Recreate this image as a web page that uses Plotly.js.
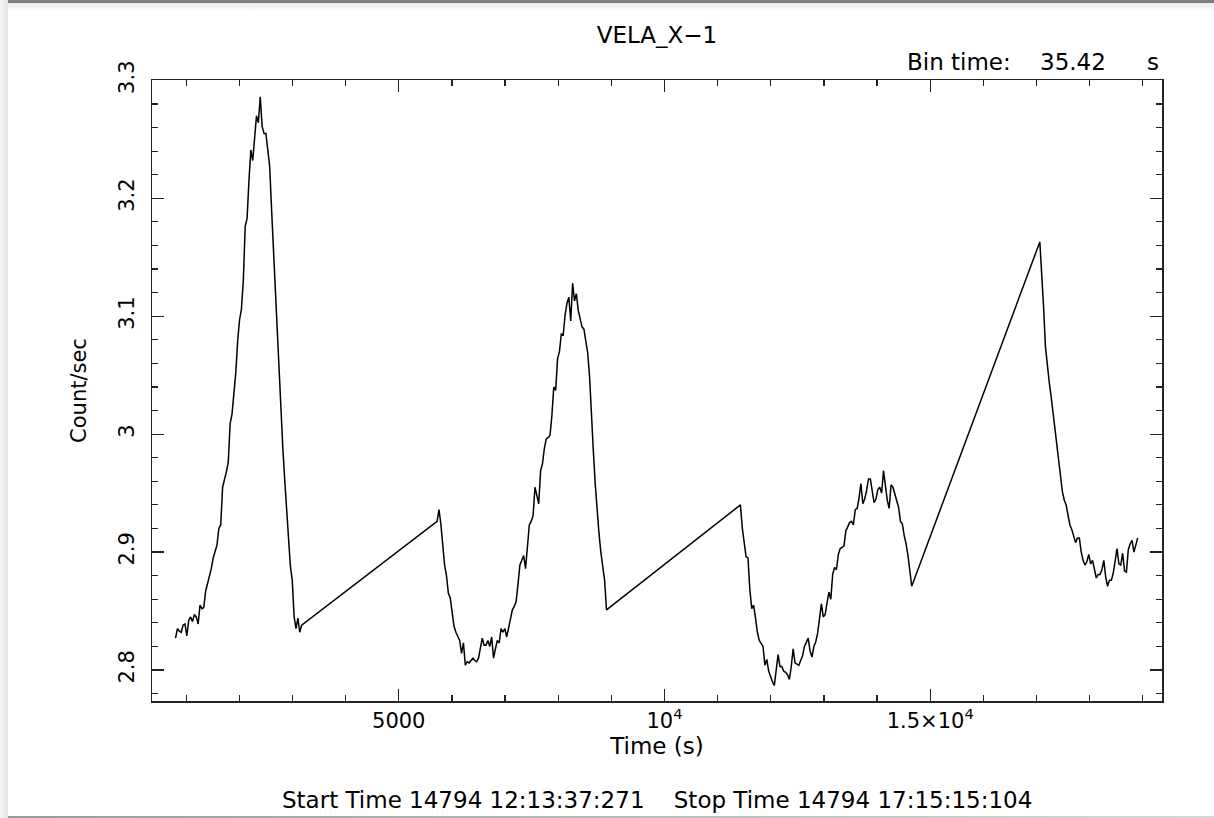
<!DOCTYPE html>
<html>
<head>
<meta charset="utf-8">
<script src="https://cdn.plot.ly/plotly-3.0.1.min.js"></script>
<style>
  html, body { margin: 0; padding: 0; background: #ffffff; }
  #wrap { position: relative; width: 1214px; height: 818px; overflow: hidden; }
  #chart { position: absolute; left: 0; top: 0; width: 1214px; height: 818px; }
  .frame-top { position: absolute; left: 8px; top: 0; width: 1206px; height: 3px; background: #7f7f7f; pointer-events: none; }
  .frame-shade-top { position: absolute; left: 8px; top: 3px; width: 1206px; height: 9px; background: linear-gradient(#ececec, #ffffff); pointer-events: none; }
  .frame-shade-left { position: absolute; left: 0; top: 0; width: 8px; height: 818px; background: linear-gradient(90deg, #f4f4f4, #e6e6e6); pointer-events: none; }
  .frame-bottom { position: absolute; left: 8px; top: 816px; width: 1206px; height: 2px; background: linear-gradient(90deg, #9a9a9a, #d8d8d8); pointer-events: none; }
</style>
</head>
<body>
<div id="wrap">
  <div id="chart"></div>
  <div class="frame-shade-left"></div>
  <div class="frame-top"></div>
  <div class="frame-shade-top"></div>
  <div class="frame-bottom"></div>
</div>
<script>
// ---- data (bin time 35.42 s) ----
const binTime = 35.42;
const segStarts = [800, 5721, 11429, 17062];

const seg1Values = [2.827,2.835,2.833,2.832,2.838,2.839,2.829,2.842,2.845,2.841,2.847,2.845,2.839,2.855,2.852,2.853,
  2.867,2.873,2.879,2.886,2.895,2.900,2.906,2.920,2.923,2.955,2.961,2.968,2.976,3.009,3.017,3.033,3.052,3.079,3.097,
  3.106,3.130,3.176,3.183,3.215,3.241,3.232,3.248,3.270,3.264,3.286,3.261,3.255,3.255,3.239,3.227,3.191,3.155,3.124,
  3.088,3.058,3.021,2.988,2.961,2.936,2.909,2.888,2.876,2.845,2.835,2.844,2.832,2.838];

const seg2Values = [2.926,2.936,2.924,2.903,2.889,2.880,2.865,2.861,2.849,2.837,2.832,2.828,2.825,2.814,2.823,2.804,
  2.807,2.806,2.808,2.810,2.808,2.807,2.810,2.818,2.827,2.821,2.821,2.825,2.820,2.828,2.810,2.818,2.825,2.823,2.835,
  2.832,2.835,2.828,2.835,2.844,2.851,2.854,2.858,2.873,2.889,2.893,2.897,2.886,2.907,2.923,2.926,2.931,2.955,2.948,
  2.941,2.969,2.975,2.988,2.996,2.997,2.999,3.016,3.040,3.037,3.064,3.070,3.085,3.084,3.101,3.111,3.116,3.096,3.128,
  3.113,3.119,3.105,3.098,3.091,3.089,3.077,3.069,3.049,3.012,2.986,2.958,2.933,2.916,2.900,2.887,2.876,2.851];

const seg3Values = [2.940,2.920,2.907,2.896,2.895,2.868,2.852,2.855,2.844,2.832,2.825,2.822,2.820,2.804,2.809,2.799,
  2.794,2.790,2.787,2.800,2.813,2.803,2.803,2.799,2.798,2.796,2.792,2.803,2.818,2.806,2.805,2.804,2.808,2.812,2.820,
  2.824,2.827,2.816,2.811,2.820,2.824,2.831,2.843,2.856,2.845,2.847,2.857,2.866,2.860,2.881,2.887,2.885,2.898,2.903,
  2.904,2.905,2.918,2.922,2.925,2.926,2.923,2.936,2.937,2.946,2.958,2.941,2.945,2.952,2.962,2.962,2.953,2.942,2.945,
  2.953,2.955,2.950,2.969,2.955,2.944,2.937,2.957,2.955,2.950,2.944,2.938,2.926,2.924,2.914,2.907,2.897,2.883,2.871];

const seg4Values = [3.163,3.139,3.108,3.074,3.056,3.044,3.032,3.019,3.008,2.993,2.981,2.967,2.951,2.944,2.940,2.931,
  2.923,2.919,2.914,2.908,2.912,2.912,2.900,2.893,2.889,2.892,2.898,2.890,2.893,2.885,2.878,2.881,2.881,2.885,2.893,
  2.879,2.871,2.876,2.876,2.882,2.892,2.903,2.890,2.889,2.899,2.884,2.883,2.902,2.907,2.910,2.900,2.907,2.912];

const xTickVals = [5000, 10000, 15000];
const xTickText = ['5000', '10<sup>4</sup>', '1.5\u00d710<sup>4</sup>'];
const yTickVals = [2.8, 2.9, 3.0, 3.1, 3.2, 3.3];
const yTickText = ['2.8', '2.9', '3', '3.1', '3.2', '3.3'];

const titleText = 'VELA_X\u22121';
const binLabel = 'Bin time:';
const binValue = '35.42';
const binUnit = 's';
const footerText = 'Start Time 14794 12:13:37:271\u00a0\u00a0\u00a0\u00a0Stop Time 14794 17:15:15:104';

// ---- build the series ----
const segments = [seg1Values, seg2Values, seg3Values, seg4Values];
const xs = [], ys = [];
segments.forEach((vals, k) => {
  vals.forEach((v, i) => { xs.push(segStarts[k] + i * binTime); ys.push(v); });
});

const FONT = 'DejaVu Sans, Liberation Sans, Arial, sans-serif';
const axisCol = '#222222';

const trace = {
  x: xs, y: ys, type: 'scatter', mode: 'lines',
  line: { color: '#000000', width: 1.5 },
  hoverinfo: 'x+y'
};

const layout = {
  width: 1214, height: 818,
  margin: { l: 152, r: 52, t: 80, b: 117 },
  paper_bgcolor: 'rgba(0,0,0,0)', plot_bgcolor: '#ffffff',
  showlegend: false,
  font: { family: FONT, size: 22, color: '#000' },
  title: { text: titleText, font: { family: FONT, size: 23, color: '#000' },
           x: 657/1214, xref: 'container', xanchor: 'center', y: 1 - 35/818, yref: 'container', yanchor: 'middle' },
  xaxis: {
    range: [357, 19361], showgrid: false, zeroline: false,
    showline: true, linecolor: axisCol, linewidth: 1.5, mirror: 'allticks',
    ticks: 'inside', ticklen: 12, tickwidth: 1.2, tickcolor: axisCol,
    tickmode: 'array', tickvals: xTickVals, ticktext: xTickText,
    tickfont: { family: FONT, size: 21, color: '#000' },
    minor: { tickmode: 'linear', tick0: 0, dtick: 1000, ticks: 'inside', ticklen: 6, tickwidth: 1.2, tickcolor: axisCol, showgrid: false },
    title: { text: 'Time (s)', font: { family: FONT, size: 23, color: '#000' }, standoff: 1 }
  },
  yaxis: {
    range: [2.7737, 3.3003], showgrid: false, zeroline: false,
    showline: true, linecolor: axisCol, linewidth: 1.5, mirror: 'allticks',
    ticks: 'inside', ticklen: 12, tickwidth: 1.2, tickcolor: axisCol,
    tickmode: 'array', tickvals: yTickVals, ticktext: yTickText, tickangle: -90,
    ticklabelstandoff: 8,
    tickfont: { family: FONT, size: 21, color: '#000' },
    minor: { tickmode: 'linear', tick0: 0, dtick: 0.02, ticks: 'inside', ticklen: 6, tickwidth: 1.2, tickcolor: axisCol, showgrid: false },
    title: { text: 'Count/sec', font: { family: FONT, size: 21, color: '#000' }, standoff: 22 }
  },
  annotations: [
    { text: binLabel, xref: 'paper', yref: 'paper', x: (905-152)/1010, y: 1 + 18/621, xanchor: 'left', yanchor: 'middle', showarrow: false, font: { family: FONT, size: 23 } },
    { text: binValue, xref: 'paper', yref: 'paper', x: (1108-152)/1010, y: 1 + 18/621, xanchor: 'right', yanchor: 'middle', showarrow: false, font: { family: FONT, size: 23 } },
    { text: binUnit, xref: 'paper', yref: 'paper', x: (1153-152)/1010, y: 1 + 18/621, xanchor: 'center', yanchor: 'middle', showarrow: false, font: { family: FONT, size: 23 } },
    { text: footerText, xref: 'paper', yref: 'paper', x: 0.5, y: -(800-701)/621, xanchor: 'center', yanchor: 'middle', showarrow: false, font: { family: FONT, size: 23 } }
  ]
};

Plotly.newPlot('chart', [trace], layout, { displayModeBar: false, staticPlot: true });
</script>
</body>
</html>
